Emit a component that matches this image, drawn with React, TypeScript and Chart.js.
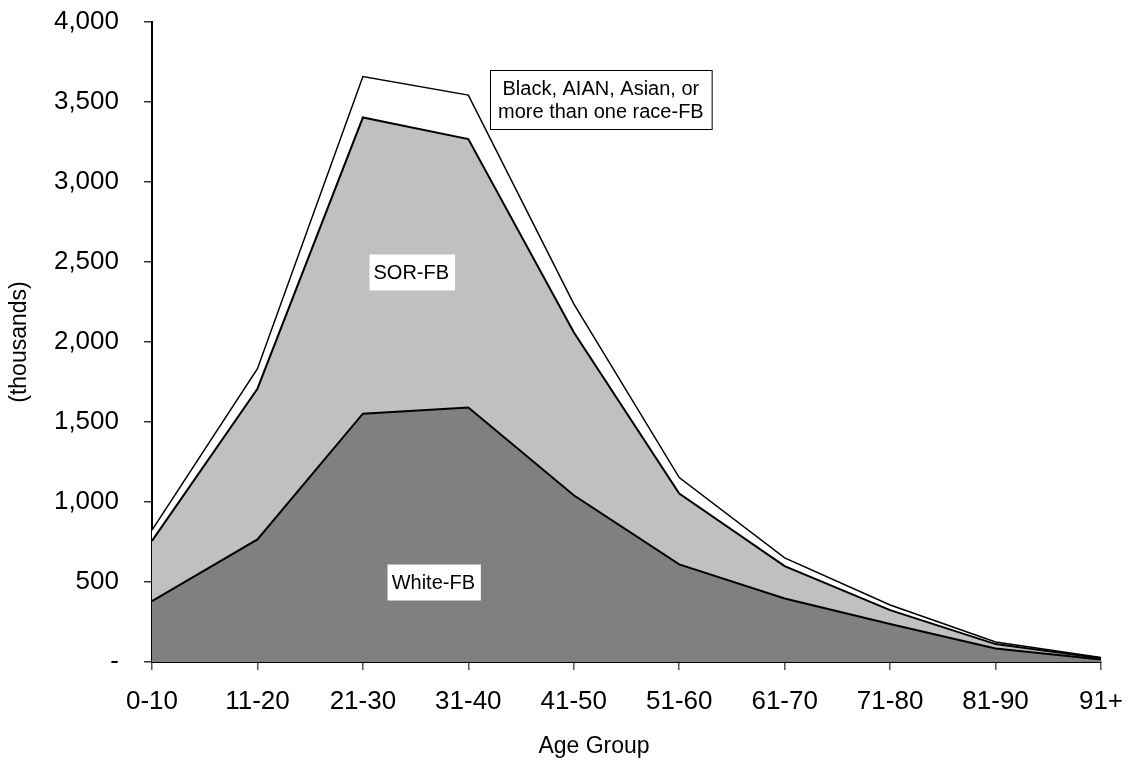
import React, { useEffect, useRef } from "react";
import { Chart, registerables } from "chart.js";

Chart.register(...registerables);

const categories = ["0-10", "11-20", "21-30", "31-40", "41-50", "51-60", "61-70", "71-80", "81-90", "91+"];
const whiteFB = [380, 766, 1552, 1591, 1042, 610, 397, 237, 85, 15];
const sorFB = [377, 942, 1851, 1677, 1019, 443, 202, 87, 27, 8];
const otherFB = [67, 125, 256, 275, 177, 100, 52, 32, 13, 5];
const seriesNames = ["White-FB", "SOR-FB", "Black, AIAN, Asian, or more than one race-FB"];

// annotation labels: lines, category index (fractional), value, bordered
const labelLines = [["White-FB"], ["SOR-FB"], ["Black, AIAN, Asian, or", "more than one race-FB"]];
const labelIndex = [2.668, 2.459, 4.257];
const labelValue = [498, 2436, 3514];
const labelBorder = [false, false, true];

const FONT = '"Liberation Sans", Arial, sans-serif';

const overlayPlugin = {
  id: "overlay",
  afterDatasetsDraw(chart: any) {
    const ctx = chart.ctx;
    const xs = chart.scales.x;
    const ys = chart.scales.y;
    const x0 = xs.getPixelForValue(0);
    const x1 = xs.getPixelForValue(1);
    ctx.save();
    ctx.font = `20px ${FONT}`;
    for (let i = 0; i < labelLines.length; i++) {
      const lines = labelLines[i];
      const cx = x0 + (x1 - x0) * labelIndex[i];
      const cy = ys.getPixelForValue(labelValue[i]);
      const w = Math.max(...lines.map((l) => ctx.measureText(l).width)) + (lines.length > 1 ? 16 : 10);
      const lh = 23;
      const h = lines.length * lh + 13;
      const left = Math.round(cx - w / 2) + 0.5;
      const top = Math.round(cy - h / 2) + 0.5;
      ctx.fillStyle = "#ffffff";
      ctx.fillRect(left, top, w, h);
      if (labelBorder[i]) {
        ctx.strokeStyle = "#000000";
        ctx.lineWidth = 1;
        ctx.strokeRect(left, top, w, h);
      }
      ctx.fillStyle = "#000000";
      ctx.textAlign = "center";
      ctx.textBaseline = "middle";
      lines.forEach((l, k) => {
        ctx.fillText(l, cx, cy - ((lines.length - 1) * lh) / 2 + k * lh + 1);
      });
    }
    ctx.restore();
  },
  afterDraw(chart: any) {
    const ctx = chart.ctx;
    const area = chart.chartArea;
    ctx.save();
    ctx.fillStyle = "#000000";
    ctx.font = `23px ${FONT}`;
    ctx.textAlign = "center";
    ctx.textBaseline = "alphabetic";
    ctx.fillText("Age Group", 594, 753);
    ctx.translate(26, (area.top + area.bottom) / 2);
    ctx.rotate(-Math.PI / 2);
    ctx.fillText("(thousands)", 0, 0);
    ctx.restore();
  },
};

export default function App() {
  const ref = useRef<HTMLCanvasElement | null>(null);
  useEffect(() => {
    if (!ref.current) return;
    const chart = new Chart(ref.current, {
      type: "line",
      data: {
        labels: categories,
        datasets: [
          {
            label: seriesNames[0],
            data: whiteFB,
            backgroundColor: "#808080",
            borderColor: "#000000",
            borderWidth: 2,
            fill: "origin",
            pointRadius: 0,
            tension: 0,
          },
          {
            label: seriesNames[1],
            data: sorFB,
            backgroundColor: "#C0C0C0",
            borderColor: "#000000",
            borderWidth: 2,
            fill: "-1",
            pointRadius: 0,
            tension: 0,
          },
          {
            label: seriesNames[2],
            data: otherFB,
            backgroundColor: "#FFFFFF",
            borderColor: "#000000",
            borderWidth: 1.5,
            fill: "-1",
            pointRadius: 0,
            tension: 0,
          },
        ],
      },
      options: {
        responsive: false,
        animation: false,
        layout: { padding: { top: 22, right: 28, left: 0, bottom: 0 } },
        plugins: { legend: { display: false }, tooltip: { enabled: false }, title: { display: false } },
        scales: {
          x: {
            type: "category",
            offset: false,
            afterFit: (s: any) => {
              s.height = 100;
              s.paddingLeft = 0;
              s.paddingRight = 0;
            },
            grid: { drawOnChartArea: false, drawTicks: true, tickLength: 8, color: "#555555", lineWidth: 1.5 },
            border: { display: true, color: "#000000", width: 2 },
            ticks: { color: "#000000", font: { family: FONT, size: 26 }, padding: 16, maxRotation: 0, autoSkip: false },
          },
          y: {
            stacked: true,
            min: 0,
            max: 4000,
            afterFit: (s: any) => {
              s.width = 152;
              s.paddingTop = 0;
              s.paddingBottom = 0;
            },
            grid: { drawOnChartArea: false, drawTicks: true, tickLength: 8, color: "#333333", lineWidth: 1.5 },
            border: { display: true, color: "#000000", width: 2 },
            ticks: {
              stepSize: 500,
              color: "#000000",
              font: { family: FONT, size: 26 },
              padding: 25,
              callback: (v: any) => (Number(v) === 0 ? "-" : Number(v).toLocaleString("en-US")),
            },
          },
        },
      },
      plugins: [overlayPlugin],
    });
    return () => chart.destroy();
  }, []);
  return (
    <div style={{ position: "fixed", left: 0, top: 0, width: 1129, height: 762, background: "#fff" }}>
      <canvas ref={ref} width={1129} height={762} style={{ display: "block" }} />
    </div>
  );
}
